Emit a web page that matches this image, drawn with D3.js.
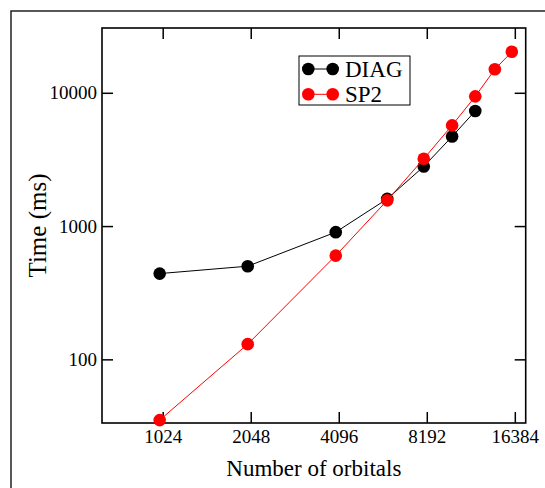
<!DOCTYPE html>
<html lang="en">
<head>
<meta charset="UTF-8">
<title>Timing</title>
<script src="https://cdnjs.cloudflare.com/ajax/libs/d3/7.8.5/d3.min.js"></script>
<style>
  body { margin: 0; background: #fff; }
  text { font-family: "Liberation Serif", "Times New Roman", serif; fill: #000; }
</style>
</head>
<body>
<div id="chart"></div>
<script>
// data
var diagX = [1000, 2000, 4000, 6000, 8000, 10000, 12000];
var diagY = [440, 500, 900, 1600, 2800, 4700, 7300];
var sp2X = [1000, 2000, 4000, 6000, 8000, 10000, 12000, 14000, 16000];
var sp2Y = [35, 130, 600, 1560, 3200, 5700, 9400, 15000, 20300];
var xTicks = [1024, 2048, 4096, 8192, 16384];
var yTicks = [100, 1000, 10000];

var width = 545, height = 488;
var pLeft = 102, pTop = 28, pRight = 525.7, pBottom = 423;

var svg = d3.select('#chart').append('svg')
  .attr('width', width)
  .attr('height', height);

// outer frame
svg.append('rect')
  .attr('x', 11).attr('y', 11)
  .attr('width', 560).attr('height', 500)
  .attr('fill', 'none').attr('stroke', '#222').attr('stroke-width', 1.5);

var x = d3.scaleLog().base(2).domain([635, 17850]).range([pLeft, pRight]);
var y = d3.scaleLog().domain([33.3, 30630]).range([pBottom, pTop]);

var g = svg.append('g');

// ticks, pointing inward on all four sides
function tickAxis(axis, tx, ty) {
  var a = g.append('g')
    .attr('transform', 'translate(' + tx + ',' + ty + ')')
    .call(axis)
    .attr('font-family', 'Liberation Serif')
    .attr('font-size', 19);
  a.select('.domain').remove();
  a.selectAll('line').attr('stroke', '#000').attr('stroke-width', 1.5);
  a.selectAll('text')
    .attr('font-family', 'Liberation Serif')
    .style('font-family', '"Liberation Serif", serif')
    .style('font-size', '19px');
  return a;
}

tickAxis(d3.axisBottom(x).tickValues(xTicks).tickFormat(d3.format('d')).tickSizeInner(-11).tickPadding(7), 0, pBottom);
tickAxis(d3.axisTop(x).tickValues(xTicks).tickFormat('').tickSizeInner(-11), 0, pTop);
tickAxis(d3.axisLeft(y).tickValues(yTicks).tickFormat(d3.format('d')).tickSizeInner(-11).tickPadding(5), pLeft, 0);
tickAxis(d3.axisRight(y).tickValues(yTicks).tickFormat('').tickSizeInner(-11), pRight, 0);

g.append('rect')
  .attr('x', pLeft).attr('y', pTop)
  .attr('width', pRight - pLeft).attr('height', pBottom - pTop)
  .attr('fill', 'none').attr('stroke', '#000').attr('stroke-width', 1.6);

var line = d3.line()
  .x(function(d) { return x(d[0]); })
  .y(function(d) { return y(d[1]); });

var series = [
  { name: 'DIAG', color: '#000000', pts: d3.zip(diagX, diagY) },
  { name: 'SP2', color: '#ff0000', pts: d3.zip(sp2X, sp2Y) }
];

series.forEach(function(s) {
  g.append('path')
    .datum(s.pts)
    .attr('d', line)
    .attr('fill', 'none')
    .attr('stroke', s.color)
    .attr('stroke-width', 1);
  g.selectAll(null)
    .data(s.pts)
    .enter()
    .append('circle')
    .attr('cx', function(d) { return x(d[0]); })
    .attr('cy', function(d) { return y(d[1]); })
    .attr('r', 6.3)
    .attr('fill', s.color);
});

// axis titles
svg.append('text')
  .attr('x', (pLeft + pRight) / 2).attr('y', 476)
  .attr('text-anchor', 'middle')
  .style('font-size', '23px')
  .text('Number of orbitals');

svg.append('text')
  .attr('transform', 'translate(46,' + ((pTop + pBottom) / 2) + ') rotate(-90)')
  .attr('text-anchor', 'middle')
  .style('font-size', '25px')
  .text('Time (ms)');

// legend
var lg = svg.append('g');
lg.append('rect')
  .attr('x', 299).attr('y', 56)
  .attr('width', 111).attr('height', 49)
  .attr('fill', '#fff').attr('stroke', '#000').attr('stroke-width', 1);

series.forEach(function(s, i) {
  var ly = 69 + i * 25.3;
  lg.append('line')
    .attr('x1', 308.3).attr('x2', 332.7)
    .attr('y1', ly).attr('y2', ly)
    .attr('stroke', s.color).attr('stroke-width', 1);
  lg.selectAll(null)
    .data([308.3, 332.7])
    .enter()
    .append('circle')
    .attr('cx', function(d) { return d; })
    .attr('cy', ly)
    .attr('r', 6.3)
    .attr('fill', s.color);
  lg.append('text')
    .attr('x', 345).attr('y', ly + 8)
    .style('font-size', '23px')
    .text(s.name);
});
</script>
</body>
</html>
